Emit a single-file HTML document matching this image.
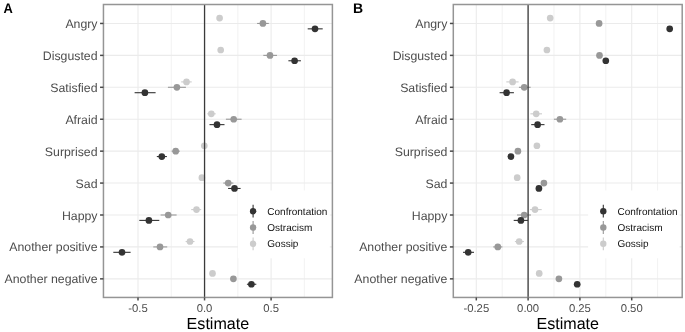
<!DOCTYPE html>
<html><head><meta charset="utf-8"><style>
html,body{margin:0;padding:0;background:#fff;}
svg{display:block;will-change:transform;text-rendering:geometricPrecision;font-family:"Liberation Sans", sans-serif;}
</style></head><body>
<svg width="685" height="332" viewBox="0 0 685 332">
<rect width="685" height="332" fill="#fff"/>
<line x1="171.28" y1="4.5" x2="171.28" y2="297.45" stroke="#ededed" stroke-width="0.7"/>
<line x1="237.83" y1="4.5" x2="237.83" y2="297.45" stroke="#ededed" stroke-width="0.7"/>
<line x1="304.38" y1="4.5" x2="304.38" y2="297.45" stroke="#ededed" stroke-width="0.7"/>
<line x1="138" y1="4.5" x2="138" y2="297.45" stroke="#ebebeb" stroke-width="1.1"/>
<line x1="204.55" y1="4.5" x2="204.55" y2="297.45" stroke="#ebebeb" stroke-width="1.1"/>
<line x1="271.1" y1="4.5" x2="271.1" y2="297.45" stroke="#ebebeb" stroke-width="1.1"/>
<line x1="103.45" y1="23.45" x2="332.4" y2="23.45" stroke="#ebebeb" stroke-width="1.1"/>
<line x1="103.45" y1="55.38" x2="332.4" y2="55.38" stroke="#ebebeb" stroke-width="1.1"/>
<line x1="103.45" y1="87.3" x2="332.4" y2="87.3" stroke="#ebebeb" stroke-width="1.1"/>
<line x1="103.45" y1="119.23" x2="332.4" y2="119.23" stroke="#ebebeb" stroke-width="1.1"/>
<line x1="103.45" y1="151.15" x2="332.4" y2="151.15" stroke="#ebebeb" stroke-width="1.1"/>
<line x1="103.45" y1="183.07" x2="332.4" y2="183.07" stroke="#ebebeb" stroke-width="1.1"/>
<line x1="103.45" y1="215" x2="332.4" y2="215" stroke="#ebebeb" stroke-width="1.1"/>
<line x1="103.45" y1="246.92" x2="332.4" y2="246.92" stroke="#ebebeb" stroke-width="1.1"/>
<line x1="103.45" y1="278.85" x2="332.4" y2="278.85" stroke="#ebebeb" stroke-width="1.1"/>
<circle cx="219.6" cy="18.05" r="3.35" fill="#cccccc"/>
<line x1="257.1" y1="23.45" x2="268.8" y2="23.45" stroke="#989898" stroke-width="1.1"/>
<circle cx="262.9" cy="23.45" r="3.35" fill="#989898"/>
<line x1="307.7" y1="28.85" x2="322.7" y2="28.85" stroke="#333333" stroke-width="1.1"/>
<circle cx="315" cy="28.85" r="3.35" fill="#333333"/>
<circle cx="220.7" cy="49.98" r="3.35" fill="#cccccc"/>
<line x1="263.3" y1="55.38" x2="277" y2="55.38" stroke="#989898" stroke-width="1.1"/>
<circle cx="270" cy="55.38" r="3.35" fill="#989898"/>
<line x1="288.4" y1="60.77" x2="300.9" y2="60.77" stroke="#333333" stroke-width="1.1"/>
<circle cx="294.6" cy="60.77" r="3.35" fill="#333333"/>
<line x1="181.2" y1="81.9" x2="191.7" y2="81.9" stroke="#cccccc" stroke-width="1.1"/>
<circle cx="186.5" cy="81.9" r="3.35" fill="#cccccc"/>
<line x1="167.9" y1="87.3" x2="185.9" y2="87.3" stroke="#989898" stroke-width="1.1"/>
<circle cx="176.9" cy="87.3" r="3.35" fill="#989898"/>
<line x1="134.6" y1="92.7" x2="155.6" y2="92.7" stroke="#333333" stroke-width="1.1"/>
<circle cx="144.9" cy="92.7" r="3.35" fill="#333333"/>
<line x1="207.3" y1="113.83" x2="215.7" y2="113.83" stroke="#cccccc" stroke-width="1.1"/>
<circle cx="211.3" cy="113.83" r="3.35" fill="#cccccc"/>
<line x1="225.9" y1="119.23" x2="241.6" y2="119.23" stroke="#989898" stroke-width="1.1"/>
<circle cx="233.7" cy="119.23" r="3.35" fill="#989898"/>
<line x1="209.5" y1="124.63" x2="224.5" y2="124.63" stroke="#333333" stroke-width="1.1"/>
<circle cx="217" cy="124.63" r="3.35" fill="#333333"/>
<circle cx="204.3" cy="145.75" r="3.35" fill="#cccccc"/>
<line x1="171.6" y1="151.15" x2="179.8" y2="151.15" stroke="#989898" stroke-width="1.1"/>
<circle cx="175.7" cy="151.15" r="3.35" fill="#989898"/>
<line x1="156.8" y1="156.55" x2="166.9" y2="156.55" stroke="#333333" stroke-width="1.1"/>
<circle cx="161.8" cy="156.55" r="3.35" fill="#333333"/>
<circle cx="201.9" cy="177.67" r="3.35" fill="#cccccc"/>
<line x1="223.3" y1="183.07" x2="233.4" y2="183.07" stroke="#989898" stroke-width="1.1"/>
<circle cx="228.2" cy="183.07" r="3.35" fill="#989898"/>
<line x1="228.1" y1="188.47" x2="240.6" y2="188.47" stroke="#333333" stroke-width="1.1"/>
<circle cx="234.5" cy="188.47" r="3.35" fill="#333333"/>
<line x1="191.2" y1="209.6" x2="201.2" y2="209.6" stroke="#cccccc" stroke-width="1.1"/>
<circle cx="196.5" cy="209.6" r="3.35" fill="#cccccc"/>
<line x1="160.6" y1="215" x2="176.6" y2="215" stroke="#989898" stroke-width="1.1"/>
<circle cx="168.2" cy="215" r="3.35" fill="#989898"/>
<line x1="139.3" y1="220.4" x2="159.3" y2="220.4" stroke="#333333" stroke-width="1.1"/>
<circle cx="148.9" cy="220.4" r="3.35" fill="#333333"/>
<line x1="185.6" y1="241.52" x2="194.5" y2="241.52" stroke="#cccccc" stroke-width="1.1"/>
<circle cx="190" cy="241.52" r="3.35" fill="#cccccc"/>
<line x1="153.3" y1="246.92" x2="167.2" y2="246.92" stroke="#989898" stroke-width="1.1"/>
<circle cx="160" cy="246.92" r="3.35" fill="#989898"/>
<line x1="113.3" y1="252.32" x2="130.6" y2="252.32" stroke="#333333" stroke-width="1.1"/>
<circle cx="122" cy="252.32" r="3.35" fill="#333333"/>
<circle cx="212.5" cy="273.45" r="3.35" fill="#cccccc"/>
<circle cx="233.4" cy="278.85" r="3.35" fill="#989898"/>
<line x1="246.9" y1="284.25" x2="256.3" y2="284.25" stroke="#333333" stroke-width="1.1"/>
<circle cx="251.4" cy="284.25" r="3.35" fill="#333333"/>
<line x1="204.55" y1="4.5" x2="204.55" y2="297.45" stroke="#3a3a3a" stroke-width="1.3"/>
<rect x="237.9" y="190.5" width="91.9" height="67.8" fill="#fff"/>
<line x1="253.1" y1="204.8" x2="253.1" y2="217.6" stroke="#333333" stroke-width="1.1"/>
<circle cx="253.1" cy="211.2" r="3.2" fill="#333333"/>
<text x="267.3" y="214.75" font-size="10" fill="#111">Confrontation</text>
<line x1="253.1" y1="221.1" x2="253.1" y2="233.9" stroke="#989898" stroke-width="1.1"/>
<circle cx="253.1" cy="227.5" r="3.2" fill="#989898"/>
<text x="267.3" y="231.05" font-size="10" fill="#111">Ostracism</text>
<line x1="253.1" y1="237.4" x2="253.1" y2="250.2" stroke="#cccccc" stroke-width="1.1"/>
<circle cx="253.1" cy="243.8" r="3.2" fill="#cccccc"/>
<text x="267.3" y="247.35" font-size="10" fill="#111">Gossip</text>
<rect x="103.45" y="4.5" width="228.95" height="292.95" fill="none" stroke="#959595" stroke-width="1.5"/>
<line x1="100.05" y1="23.45" x2="103.45" y2="23.45" stroke="#4a4a4a" stroke-width="1.5"/>
<text x="97.5" y="27.95" font-size="12.3" fill="#4d4d4d" text-anchor="end">Angry</text>
<line x1="100.05" y1="55.38" x2="103.45" y2="55.38" stroke="#4a4a4a" stroke-width="1.5"/>
<text x="97.5" y="59.88" font-size="12.3" fill="#4d4d4d" text-anchor="end">Disgusted</text>
<line x1="100.05" y1="87.3" x2="103.45" y2="87.3" stroke="#4a4a4a" stroke-width="1.5"/>
<text x="97.5" y="91.8" font-size="12.3" fill="#4d4d4d" text-anchor="end">Satisfied</text>
<line x1="100.05" y1="119.23" x2="103.45" y2="119.23" stroke="#4a4a4a" stroke-width="1.5"/>
<text x="97.5" y="123.73" font-size="12.3" fill="#4d4d4d" text-anchor="end">Afraid</text>
<line x1="100.05" y1="151.15" x2="103.45" y2="151.15" stroke="#4a4a4a" stroke-width="1.5"/>
<text x="97.5" y="155.65" font-size="12.3" fill="#4d4d4d" text-anchor="end">Surprised</text>
<line x1="100.05" y1="183.07" x2="103.45" y2="183.07" stroke="#4a4a4a" stroke-width="1.5"/>
<text x="97.5" y="187.57" font-size="12.3" fill="#4d4d4d" text-anchor="end">Sad</text>
<line x1="100.05" y1="215" x2="103.45" y2="215" stroke="#4a4a4a" stroke-width="1.5"/>
<text x="97.5" y="219.5" font-size="12.3" fill="#4d4d4d" text-anchor="end">Happy</text>
<line x1="100.05" y1="246.92" x2="103.45" y2="246.92" stroke="#4a4a4a" stroke-width="1.5"/>
<text x="97.5" y="251.42" font-size="12.3" fill="#4d4d4d" text-anchor="end">Another positive</text>
<line x1="100.05" y1="278.85" x2="103.45" y2="278.85" stroke="#4a4a4a" stroke-width="1.5"/>
<text x="97.5" y="283.35" font-size="12.3" fill="#4d4d4d" text-anchor="end">Another negative</text>
<line x1="138" y1="297.45" x2="138" y2="300.45" stroke="#4a4a4a" stroke-width="1.5"/>
<text x="138" y="312.05" font-size="11.3" fill="#4d4d4d" text-anchor="middle">-0.5</text>
<line x1="204.55" y1="297.45" x2="204.55" y2="300.45" stroke="#4a4a4a" stroke-width="1.5"/>
<text x="204.55" y="312.05" font-size="11.3" fill="#4d4d4d" text-anchor="middle">0.0</text>
<line x1="271.1" y1="297.45" x2="271.1" y2="300.45" stroke="#4a4a4a" stroke-width="1.5"/>
<text x="271.1" y="312.05" font-size="11.3" fill="#4d4d4d" text-anchor="middle">0.5</text>
<text x="217.92" y="328.7" font-size="16.1" fill="#000" text-anchor="middle">Estimate</text>
<text transform="translate(3.5,12.7) scale(0.92,1)" font-size="14" font-weight="bold" fill="#000">A</text>
<line x1="502.2" y1="4.5" x2="502.2" y2="297.45" stroke="#ededed" stroke-width="0.7"/>
<line x1="554" y1="4.5" x2="554" y2="297.45" stroke="#ededed" stroke-width="0.7"/>
<line x1="605.8" y1="4.5" x2="605.8" y2="297.45" stroke="#ededed" stroke-width="0.7"/>
<line x1="657.6" y1="4.5" x2="657.6" y2="297.45" stroke="#ededed" stroke-width="0.7"/>
<line x1="476.3" y1="4.5" x2="476.3" y2="297.45" stroke="#ebebeb" stroke-width="1.1"/>
<line x1="528.1" y1="4.5" x2="528.1" y2="297.45" stroke="#ebebeb" stroke-width="1.1"/>
<line x1="579.9" y1="4.5" x2="579.9" y2="297.45" stroke="#ebebeb" stroke-width="1.1"/>
<line x1="631.7" y1="4.5" x2="631.7" y2="297.45" stroke="#ebebeb" stroke-width="1.1"/>
<line x1="453.3" y1="23.45" x2="682.2" y2="23.45" stroke="#ebebeb" stroke-width="1.1"/>
<line x1="453.3" y1="55.38" x2="682.2" y2="55.38" stroke="#ebebeb" stroke-width="1.1"/>
<line x1="453.3" y1="87.3" x2="682.2" y2="87.3" stroke="#ebebeb" stroke-width="1.1"/>
<line x1="453.3" y1="119.23" x2="682.2" y2="119.23" stroke="#ebebeb" stroke-width="1.1"/>
<line x1="453.3" y1="151.15" x2="682.2" y2="151.15" stroke="#ebebeb" stroke-width="1.1"/>
<line x1="453.3" y1="183.07" x2="682.2" y2="183.07" stroke="#ebebeb" stroke-width="1.1"/>
<line x1="453.3" y1="215" x2="682.2" y2="215" stroke="#ebebeb" stroke-width="1.1"/>
<line x1="453.3" y1="246.92" x2="682.2" y2="246.92" stroke="#ebebeb" stroke-width="1.1"/>
<line x1="453.3" y1="278.85" x2="682.2" y2="278.85" stroke="#ebebeb" stroke-width="1.1"/>
<circle cx="550.2" cy="18.05" r="3.35" fill="#cccccc"/>
<circle cx="599.1" cy="23.45" r="3.35" fill="#989898"/>
<circle cx="669.7" cy="28.85" r="3.35" fill="#333333"/>
<circle cx="546.9" cy="49.98" r="3.35" fill="#cccccc"/>
<circle cx="599.5" cy="55.38" r="3.35" fill="#989898"/>
<circle cx="605.8" cy="60.77" r="3.35" fill="#333333"/>
<line x1="506.3" y1="81.9" x2="518.6" y2="81.9" stroke="#cccccc" stroke-width="1.1"/>
<circle cx="512.6" cy="81.9" r="3.35" fill="#cccccc"/>
<line x1="518.9" y1="87.3" x2="530.6" y2="87.3" stroke="#989898" stroke-width="1.1"/>
<circle cx="524.2" cy="87.3" r="3.35" fill="#989898"/>
<line x1="499.6" y1="92.7" x2="513.9" y2="92.7" stroke="#333333" stroke-width="1.1"/>
<circle cx="506.6" cy="92.7" r="3.35" fill="#333333"/>
<line x1="530.4" y1="113.83" x2="542" y2="113.83" stroke="#cccccc" stroke-width="1.1"/>
<circle cx="536.2" cy="113.83" r="3.35" fill="#cccccc"/>
<line x1="553.9" y1="119.23" x2="566.2" y2="119.23" stroke="#989898" stroke-width="1.1"/>
<circle cx="559.9" cy="119.23" r="3.35" fill="#989898"/>
<line x1="531.2" y1="124.63" x2="544.5" y2="124.63" stroke="#333333" stroke-width="1.1"/>
<circle cx="537.6" cy="124.63" r="3.35" fill="#333333"/>
<circle cx="536.9" cy="145.75" r="3.35" fill="#cccccc"/>
<circle cx="517.9" cy="151.15" r="3.35" fill="#989898"/>
<circle cx="510.9" cy="156.55" r="3.35" fill="#333333"/>
<circle cx="517.2" cy="177.67" r="3.35" fill="#cccccc"/>
<circle cx="543.9" cy="183.07" r="3.35" fill="#989898"/>
<circle cx="538.9" cy="188.47" r="3.35" fill="#333333"/>
<line x1="529.9" y1="209.6" x2="541.7" y2="209.6" stroke="#cccccc" stroke-width="1.1"/>
<circle cx="535" cy="209.6" r="3.35" fill="#cccccc"/>
<line x1="517" y1="215" x2="530.9" y2="215" stroke="#989898" stroke-width="1.1"/>
<circle cx="524.2" cy="215" r="3.35" fill="#989898"/>
<line x1="513.7" y1="220.4" x2="528" y2="220.4" stroke="#333333" stroke-width="1.1"/>
<circle cx="520.9" cy="220.4" r="3.35" fill="#333333"/>
<line x1="514.9" y1="241.52" x2="523.9" y2="241.52" stroke="#cccccc" stroke-width="1.1"/>
<circle cx="519.2" cy="241.52" r="3.35" fill="#cccccc"/>
<line x1="493.2" y1="246.92" x2="502.4" y2="246.92" stroke="#989898" stroke-width="1.1"/>
<circle cx="497.8" cy="246.92" r="3.35" fill="#989898"/>
<line x1="463" y1="252.32" x2="474" y2="252.32" stroke="#333333" stroke-width="1.1"/>
<circle cx="468.2" cy="252.32" r="3.35" fill="#333333"/>
<circle cx="539.2" cy="273.45" r="3.35" fill="#cccccc"/>
<circle cx="558.9" cy="278.85" r="3.35" fill="#989898"/>
<circle cx="577.2" cy="284.25" r="3.35" fill="#333333"/>
<line x1="528.1" y1="4.5" x2="528.1" y2="297.45" stroke="#3a3a3a" stroke-width="1.3"/>
<rect x="588.1" y="190.5" width="91.5" height="67.8" fill="#fff"/>
<line x1="603.3" y1="204.8" x2="603.3" y2="217.6" stroke="#333333" stroke-width="1.1"/>
<circle cx="603.3" cy="211.2" r="3.2" fill="#333333"/>
<text x="617.5" y="214.75" font-size="10" fill="#111">Confrontation</text>
<line x1="603.3" y1="221.1" x2="603.3" y2="233.9" stroke="#989898" stroke-width="1.1"/>
<circle cx="603.3" cy="227.5" r="3.2" fill="#989898"/>
<text x="617.5" y="231.05" font-size="10" fill="#111">Ostracism</text>
<line x1="603.3" y1="237.4" x2="603.3" y2="250.2" stroke="#cccccc" stroke-width="1.1"/>
<circle cx="603.3" cy="243.8" r="3.2" fill="#cccccc"/>
<text x="617.5" y="247.35" font-size="10" fill="#111">Gossip</text>
<rect x="453.3" y="4.5" width="228.9" height="292.95" fill="none" stroke="#959595" stroke-width="1.5"/>
<line x1="449.9" y1="23.45" x2="453.3" y2="23.45" stroke="#4a4a4a" stroke-width="1.5"/>
<text x="447.35" y="27.95" font-size="12.3" fill="#4d4d4d" text-anchor="end">Angry</text>
<line x1="449.9" y1="55.38" x2="453.3" y2="55.38" stroke="#4a4a4a" stroke-width="1.5"/>
<text x="447.35" y="59.88" font-size="12.3" fill="#4d4d4d" text-anchor="end">Disgusted</text>
<line x1="449.9" y1="87.3" x2="453.3" y2="87.3" stroke="#4a4a4a" stroke-width="1.5"/>
<text x="447.35" y="91.8" font-size="12.3" fill="#4d4d4d" text-anchor="end">Satisfied</text>
<line x1="449.9" y1="119.23" x2="453.3" y2="119.23" stroke="#4a4a4a" stroke-width="1.5"/>
<text x="447.35" y="123.73" font-size="12.3" fill="#4d4d4d" text-anchor="end">Afraid</text>
<line x1="449.9" y1="151.15" x2="453.3" y2="151.15" stroke="#4a4a4a" stroke-width="1.5"/>
<text x="447.35" y="155.65" font-size="12.3" fill="#4d4d4d" text-anchor="end">Surprised</text>
<line x1="449.9" y1="183.07" x2="453.3" y2="183.07" stroke="#4a4a4a" stroke-width="1.5"/>
<text x="447.35" y="187.57" font-size="12.3" fill="#4d4d4d" text-anchor="end">Sad</text>
<line x1="449.9" y1="215" x2="453.3" y2="215" stroke="#4a4a4a" stroke-width="1.5"/>
<text x="447.35" y="219.5" font-size="12.3" fill="#4d4d4d" text-anchor="end">Happy</text>
<line x1="449.9" y1="246.92" x2="453.3" y2="246.92" stroke="#4a4a4a" stroke-width="1.5"/>
<text x="447.35" y="251.42" font-size="12.3" fill="#4d4d4d" text-anchor="end">Another positive</text>
<line x1="449.9" y1="278.85" x2="453.3" y2="278.85" stroke="#4a4a4a" stroke-width="1.5"/>
<text x="447.35" y="283.35" font-size="12.3" fill="#4d4d4d" text-anchor="end">Another negative</text>
<line x1="476.3" y1="297.45" x2="476.3" y2="300.45" stroke="#4a4a4a" stroke-width="1.5"/>
<text x="476.3" y="312.05" font-size="11.3" fill="#4d4d4d" text-anchor="middle">-0.25</text>
<line x1="528.1" y1="297.45" x2="528.1" y2="300.45" stroke="#4a4a4a" stroke-width="1.5"/>
<text x="528.1" y="312.05" font-size="11.3" fill="#4d4d4d" text-anchor="middle">0.00</text>
<line x1="579.9" y1="297.45" x2="579.9" y2="300.45" stroke="#4a4a4a" stroke-width="1.5"/>
<text x="579.9" y="312.05" font-size="11.3" fill="#4d4d4d" text-anchor="middle">0.25</text>
<line x1="631.7" y1="297.45" x2="631.7" y2="300.45" stroke="#4a4a4a" stroke-width="1.5"/>
<text x="631.7" y="312.05" font-size="11.3" fill="#4d4d4d" text-anchor="middle">0.50</text>
<text x="567.75" y="328.7" font-size="16.1" fill="#000" text-anchor="middle">Estimate</text>
<text transform="translate(353,12.7) scale(1.0,1)" font-size="14" font-weight="bold" fill="#000">B</text>
</svg>
</body></html>
